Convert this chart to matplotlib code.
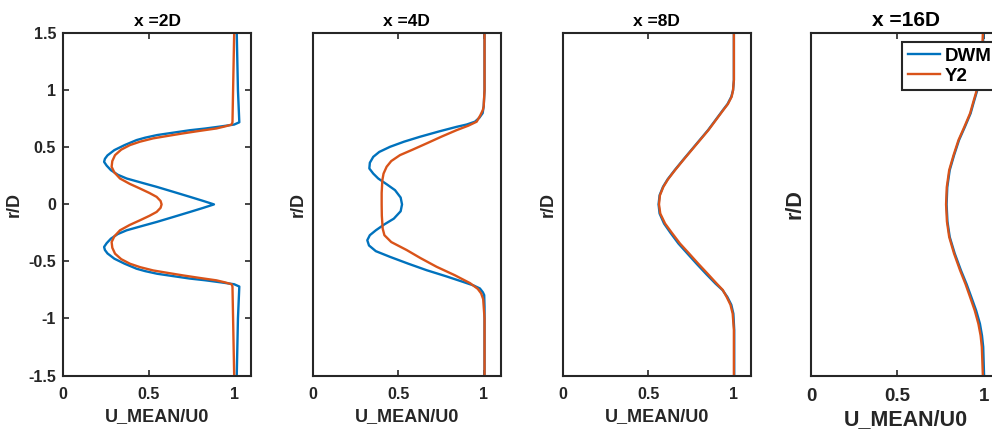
import numpy as np
import matplotlib
matplotlib.use('Agg')
import matplotlib.pyplot as plt

plt.rcParams['font.family'] = ['Liberation Sans', 'DejaVu Sans']
plt.rcParams['font.weight'] = 'bold'

BLUE = '#0072BD'
ORANGE = '#D95319'
EDGE = '#262626'

titles = ['x =2D', 'x =4D', 'x =8D', 'x =16D']
labels = ['DWM', 'Y2']

# x = 2D
r_2d_dwm = [1.5, 1.0, 0.72, 0.70, 0.685, 0.665, 0.65, 0.628, 0.608, 0.585, 0.564, 0.52,
            0.476, 0.43, 0.40, 0.373, 0.34, 0.30, 0.26, 0.227, 0.19, 0.154, 0.11, 0.066,
            0.03, 0.0, -0.03, -0.066, -0.11, -0.154, -0.19, -0.227, -0.26, -0.30, -0.34,
            -0.373, -0.40, -0.43, -0.476, -0.52, -0.564, -0.585, -0.608, -0.628, -0.65,
            -0.665, -0.685, -0.70, -0.72, -1.0, -1.5]
u_2d_dwm = [1.015, 1.022, 1.03, 1.0, 0.93, 0.83, 0.74, 0.64, 0.55, 0.48, 0.43, 0.36,
            0.30, 0.26, 0.245, 0.24, 0.255, 0.28, 0.32, 0.372, 0.46, 0.547, 0.645, 0.742,
            0.82, 0.882, 0.82, 0.742, 0.645, 0.547, 0.46, 0.372, 0.32, 0.28, 0.255,
            0.24, 0.245, 0.26, 0.30, 0.36, 0.43, 0.48, 0.55, 0.64, 0.74,
            0.83, 0.93, 1.0, 1.03, 1.022, 1.015]
r_2d_y2 = [1.5, 0.72, 0.70, 0.685, 0.666, 0.645, 0.623, 0.60, 0.579, 0.55, 0.52, 0.48,
           0.432, 0.38, 0.33, 0.28, 0.227, 0.18, 0.139, 0.10, 0.066, 0.03, 0.0, -0.03,
           -0.066, -0.10, -0.139, -0.18, -0.227, -0.28, -0.33, -0.38, -0.432, -0.48,
           -0.52, -0.55, -0.579, -0.60, -0.623, -0.645, -0.666, -0.685, -0.70, -0.72, -1.5]
u_2d_y2 = [1.0, 0.99, 0.985, 0.95, 0.897, 0.80, 0.703, 0.61, 0.527, 0.45, 0.391, 0.34,
           0.304, 0.288, 0.284, 0.30, 0.333, 0.39, 0.45, 0.505, 0.547, 0.57, 0.576, 0.57,
           0.547, 0.505, 0.45, 0.39, 0.333, 0.30, 0.284, 0.288, 0.304, 0.34,
           0.391, 0.45, 0.527, 0.61, 0.703, 0.80, 0.897, 0.95, 0.985, 0.99, 1.0]

# x = 4D
r_4d_dwm = [1.5, 1.0, 0.86, 0.80, 0.76, 0.725, 0.70, 0.68, 0.64, 0.593, 0.55, 0.505,
            0.46, 0.417, 0.365, 0.315, 0.27, 0.227, 0.175, 0.125, 0.06, 0.0, -0.06,
            -0.125, -0.175, -0.227, -0.27, -0.314, -0.36, -0.41, -0.46, -0.52, -0.577,
            -0.63, -0.68, -0.71, -0.737, -0.77, -0.795, -0.9, -1.5]
u_4d_dwm = [1.005, 1.005, 1.0, 0.994, 0.975, 0.949, 0.90, 0.842, 0.74, 0.628, 0.535, 0.453,
            0.39, 0.355, 0.335, 0.332, 0.355, 0.384, 0.435, 0.482, 0.515, 0.523, 0.515,
            0.475, 0.42, 0.37, 0.335, 0.32, 0.33, 0.37, 0.453, 0.56, 0.667,
            0.78, 0.881, 0.94, 0.978, 0.995, 1.003, 1.005, 1.005]
r_4d_y2 = [1.5, 1.0, 0.86, 0.827, 0.78, 0.725, 0.69, 0.651, 0.595, 0.535, 0.48, 0.432,
           0.38, 0.33, 0.27, 0.212, 0.1, 0.0, -0.1, -0.212, -0.27, -0.33, -0.40, -0.47,
           -0.547, -0.62, -0.69, -0.74, -0.78, -0.83, -1.0, -1.5]
u_4d_y2 = [1.005, 1.005, 1.0, 0.995, 0.98, 0.959, 0.91, 0.842, 0.755, 0.667, 0.585, 0.511,
           0.46, 0.433, 0.415, 0.408, 0.404, 0.404, 0.405, 0.41, 0.42, 0.46, 0.55, 0.63,
           0.725, 0.83, 0.92, 0.965, 0.985, 0.997, 1.005, 1.005]

# x = 8D
r_8d = [1.5, 1.09, 1.0, 0.944, 0.88, 0.827, 0.74, 0.651, 0.56, 0.476, 0.39, 0.30, 0.22,
        0.154, 0.08, 0.0, -0.08, -0.168, -0.25, -0.343, -0.43, -0.52, -0.61, -0.695,
        -0.75, -0.812, -0.88, -0.958, -1.1, -1.5]
u_8d_dwm = [1.0, 1.0, 0.995, 0.985, 0.963, 0.936, 0.893, 0.849, 0.798, 0.751, 0.703, 0.654,
            0.613, 0.586, 0.566, 0.56, 0.566, 0.592, 0.63, 0.676, 0.728, 0.782, 0.838, 0.893,
            0.933, 0.962, 0.985, 0.997, 1.002, 1.002]
u_8d_y2 = [1.0, 1.0, 0.995, 0.987, 0.965, 0.938, 0.895, 0.851, 0.80, 0.753, 0.705, 0.656,
           0.615, 0.588, 0.568, 0.5625, 0.57, 0.598, 0.638, 0.685, 0.738, 0.792, 0.848, 0.9,
           0.935, 0.958, 0.98, 0.993, 1.0, 1.0]

# x = 16D
r_16d = [1.5, 1.3, 1.15, 1.003, 0.9, 0.798, 0.68, 0.564, 0.43, 0.30, 0.15, 0.0, -0.15,
         -0.285, -0.43, -0.578, -0.7, -0.812, -0.93, -1.046, -1.15, -1.25, -1.5]
u_16d_dwm = [0.998, 0.993, 0.981, 0.963, 0.943, 0.924, 0.891, 0.857, 0.828, 0.803, 0.789,
             0.785, 0.79, 0.803, 0.832, 0.868, 0.901, 0.928, 0.956, 0.978, 0.99, 0.997, 1.002]
u_16d_y2 = [0.995, 0.99, 0.978, 0.96, 0.94, 0.921, 0.888, 0.854, 0.825, 0.80, 0.786,
            0.782, 0.787, 0.80, 0.828, 0.863, 0.895, 0.921, 0.948, 0.969, 0.982, 0.989, 0.995]

panels = [
    (r_2d_dwm, u_2d_dwm, r_2d_y2, u_2d_y2),
    (r_4d_dwm, u_4d_dwm, r_4d_y2, u_4d_y2),
    (r_8d, u_8d_dwm, r_8d, u_8d_y2),
    (r_16d, u_16d_dwm, r_16d, u_16d_y2),
]

fig = plt.figure(figsize=(9.92, 4.32), dpi=100)

# the last panel runs past the right edge of the picture, as in the original
lefts = [63, 312.5, 562.7, 811]
widths = [188.3, 188.3, 188.3, 190]
bottom = (432 - 375.5) / 432
height = (375.5 - 33.3) / 432

for i, (rb, ub, ro, uo) in enumerate(panels):
    big = (i == 3)
    ax = fig.add_axes([lefts[i] / 992, bottom, widths[i] / 992, height])
    ax.plot(ub, rb, color=BLUE, lw=1.7, label=labels[0])
    ax.plot(uo, ro, color=ORANGE, lw=1.7, label=labels[1])
    ax.set_xlim(0, 1.1)
    ax.set_ylim(-1.5, 1.5)
    ax.set_xticks([0, 0.5, 1])
    ax.set_xticklabels(['0', '0.5', '1'])
    tick_fs = 13.5 if big else 11.5
    lab_fs = 15.5 if big else 13
    if i == 0:
        ax.set_yticks([-1.5, -1, -0.5, 0, 0.5, 1, 1.5])
        ax.set_yticklabels(['-1.5', '-1', '-0.5', '0', '0.5', '1', '1.5'])
    else:
        ax.set_yticks([])
    ax.tick_params(direction='in', top=True, right=True, length=4, width=1.2,
                   colors=EDGE, labelsize=tick_fs)
    ax.tick_params(axis='x', pad=9 if big else 8)
    ax.tick_params(axis='y', pad=5)
    for s in ax.spines.values():
        s.set_linewidth(1.5)
        s.set_color(EDGE)
    ax.set_xlabel('U_MEAN/U0', fontsize=lab_fs, fontweight='bold', color=EDGE,
                  labelpad=3 if big else 5)
    ax.set_ylabel('r/D', fontsize=lab_fs, fontweight='bold', color=EDGE, labelpad=4)
    ax.set_title(titles[i], fontsize=15 if big else 12.5, fontweight='bold',
                 color='black', pad=5)
    if big:
        leg = ax.legend(loc='upper left', bbox_to_anchor=(0.479, 0.975), borderaxespad=0,
                        fontsize=13.5, frameon=True, fancybox=False, framealpha=1,
                        handlelength=1.7, handletextpad=0.3,
                        borderpad=0.3, labelspacing=0.15)
        leg.get_frame().set_edgecolor(EDGE)
        leg.get_frame().set_linewidth(1.5)

fig.savefig('out.png', dpi=100)
